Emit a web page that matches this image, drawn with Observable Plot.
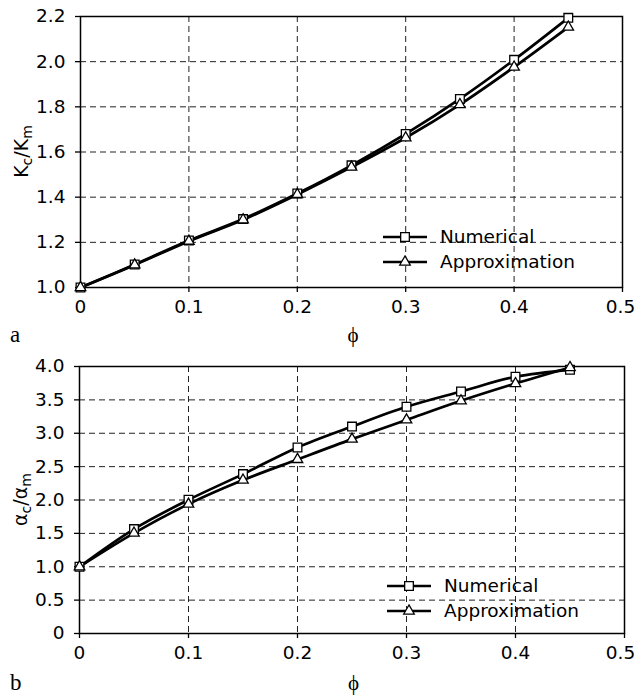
<!DOCTYPE html>
<html><head><meta charset="utf-8">
<script src="https://cdn.jsdelivr.net/npm/d3@7"></script>
<script src="https://cdn.jsdelivr.net/npm/@observablehq/plot@0.6"></script>
<style>
body{margin:0;background:#fff;}
#c{width:637px;height:695px;overflow:hidden;}
#c svg{display:block;}
</style></head><body><div id="c"></div>
<script>
// ---- data ----
const phi = [0, 0.05, 0.10, 0.15, 0.20, 0.25, 0.30, 0.35, 0.40, 0.45];
const kNumerical = [1.00, 1.102, 1.208, 1.303, 1.416, 1.541, 1.680, 1.835, 2.008, 2.194];
const kApprox    = [1.00, 1.100, 1.205, 1.300, 1.412, 1.533, 1.663, 1.810, 1.976, 2.153];
const aNumerical = [1.00, 1.564, 2.003, 2.388, 2.787, 3.100, 3.396, 3.625, 3.846, 3.950];
const aApprox    = [1.00, 1.504, 1.938, 2.298, 2.607, 2.912, 3.200, 3.486, 3.745, 3.985];
const seriesNames = ["Numerical", "Approximation"];
const xTicks = [0, 0.1, 0.2, 0.3, 0.4, 0.5];
const kTicks = [1.0, 1.2, 1.4, 1.6, 1.8, 2.0, 2.2];
const aTicks = [0, 0.5, 1.0, 1.5, 2.0, 2.5, 3.0, 3.5, 4.0];
const xLabel = "ϕ";
const panelLetters = ["a", "b"];

const fmtTick = d => d === 0 ? "0" : d.toFixed(1);
const SANS = "'DejaVu Sans', sans-serif";
const SERIF = "'Liberation Serif', 'DejaVu Serif', serif";

function panel(o) {
  const rows = [];
  phi.forEach((p, i) => {
    rows.push({phi: p, v: o.num[i], s: seriesNames[0]});
    rows.push({phi: p, v: o.app[i], s: seriesNames[1]});
  });
  const grid = {stroke: "#222", strokeOpacity: 1, strokeWidth: 1, strokeDasharray: "6,4"};
  const axX = {tickFormat: fmtTick, tickSize: 5, tickPadding: 7, label: null, strokeWidth: 1.3};
  const chart = Plot.plot({
    width: 637, height: o.height,
    marginTop: o.mt, marginBottom: o.mb, marginLeft: o.ml, marginRight: o.mr,
    style: {fontFamily: SANS, fontSize: "18.5px", color: "#000", background: "#fff", overflow: "visible"},
    x: {domain: [0, 0.5]},
    y: {domain: o.yDomain},
    marks: [
      Plot.gridX({...grid, ticks: xTicks.slice(1, -1)}),
      Plot.gridY({...grid, ticks: o.yTicks.slice(1, -1)}),
      Plot.frame({stroke: "#000", strokeWidth: 1.5}),
      Plot.axisX({...axX, ticks: xTicks.slice(0, -1)}),
      Plot.axisX({...axX, ticks: xTicks.slice(-1), text: null}),
      Plot.axisX({...axX, ticks: xTicks.slice(-1), tickSize: 0, tickPadding: 12, dx: o.lastDx}),
      Plot.axisY({ticks: o.yTicks, tickFormat: fmtTick, tickSize: 5, tickPadding: 10, label: null, strokeWidth: 1.3}),
      Plot.line(rows, {x: "phi", y: "v", z: "s", stroke: "#000", strokeWidth: 2.7, curve: "catmull-rom"}),
      Plot.dot(rows.filter(d => d.s === seriesNames[0]), {x: "phi", y: "v", symbol: "square", r: 4.9, fill: "#fff", stroke: "#000", strokeWidth: 1.3}),
      Plot.dot(rows.filter(d => d.s === seriesNames[1]), {x: "phi", y: "v", symbol: "triangle", r: 3.9, fill: "#fff", stroke: "#000", strokeWidth: 1.3})
    ]
  });
  const svg = d3.select(chart);
  const left = o.ml, right = 637 - o.mr, top = o.mt, bottom = o.height - o.mb;

  // y axis title with subscripts
  const t = svg.append("text")
    .attr("transform", `translate(${o.yTitleX},${(top + bottom) / 2}) rotate(-90)`)
    .attr("text-anchor", "middle")
    .attr("font-family", SANS).attr("font-size", 19).attr("fill", "#000");
  t.append("tspan").text(o.yTitle[0]);
  t.append("tspan").attr("font-size", 14).attr("dy", 4).text(o.yTitle[1]);
  t.append("tspan").attr("dy", -4).text("/" + o.yTitle[0]);
  t.append("tspan").attr("font-size", 14).attr("dy", 4).text(o.yTitle[2]);

  // x axis title
  svg.append("text")
    .attr("x", (left + right) / 2 + 2).attr("y", bottom + o.xTitleDy)
    .attr("text-anchor", "middle").attr("dy", "0.32em")
    .attr("font-family", SERIF).attr("font-size", 21).attr("fill", "#000")
    .text(xLabel);

  // panel letter
  svg.append("text")
    .attr("x", 10).attr("y", bottom + o.xTitleDy)
    .attr("text-anchor", "start").attr("dy", "0.32em")
    .attr("font-family", SERIF).attr("font-size", 23).attr("fill", "#000")
    .text(o.letter);

  // legend
  const lg = svg.append("g").attr("transform", `translate(${right - o.legRight},${bottom - o.legBottom})`);
  seriesNames.forEach((name, i) => {
    const g = lg.append("g").attr("transform", `translate(0,${i * o.legGap})`);
    g.append("line").attr("x1", 0).attr("x2", 44).attr("stroke", "#000").attr("stroke-width", 2.7);
    g.append("path")
      .attr("transform", "translate(22,0)")
      .attr("d", d3.symbol(i === 0 ? d3.symbolSquare : d3.symbolTriangle, i === 0 ? Math.PI * 4.9 * 4.9 : Math.PI * 3.9 * 3.9)())
      .attr("fill", "#fff").attr("stroke", "#000").attr("stroke-width", 1.3);
    g.append("text").attr("x", 57).attr("dy", "0.35em")
      .attr("text-anchor", "start")
      .attr("font-family", SANS).attr("font-size", 18.5).attr("fill", "#000")
      .text(name);
  });
  return chart;
}

const c = document.getElementById("c");
c.append(panel({
  height: 348, mt: 16, mb: 61, ml: 80, mr: 15, lastDx: -2,
  yDomain: [1.0, 2.2], yTicks: kTicks, num: kNumerical, app: kApprox,
  yTitle: ["K", "c", "m"], yTitleX: 28, xTitleDy: 48, letter: panelLetters[0],
  legRight: 239, legBottom: 50, legGap: 25
}));
c.append(panel({
  height: 347, mt: 18, mb: 62, ml: 79, mr: 13, lastDx: -4,
  yDomain: [0, 4.0], yTicks: aTicks, num: aNumerical, app: aApprox,
  yTitle: ["α", "c", "m"], yTitleX: 27, xTitleDy: 50, letter: panelLetters[1],
  legRight: 237, legBottom: 47, legGap: 25
}));
</script>
</body></html>
